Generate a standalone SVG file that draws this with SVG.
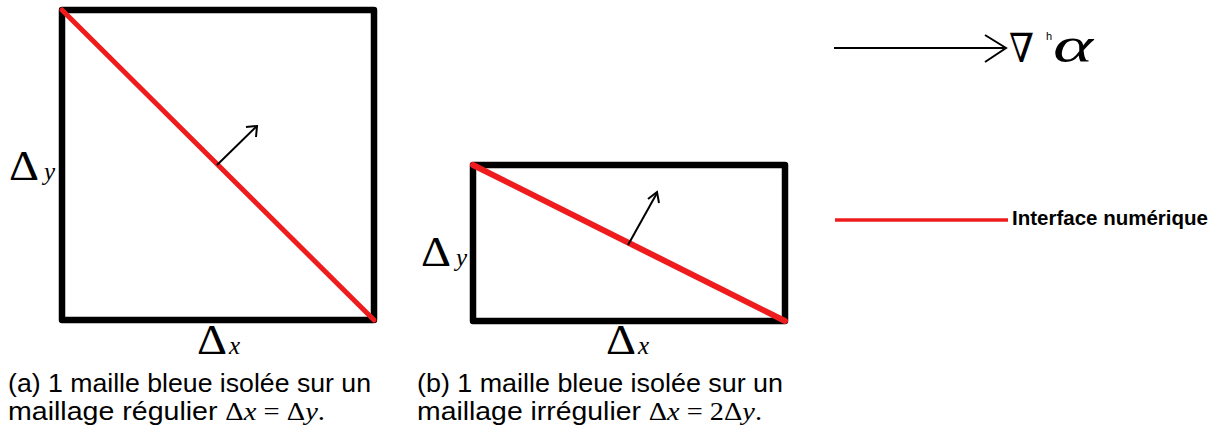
<svg xmlns="http://www.w3.org/2000/svg" width="1219" height="435" viewBox="0 0 1219 435">
<defs>
<style>
.cell{fill:none;stroke:#000;stroke-width:6.5;stroke-linejoin:round}
.iface{stroke:#ee1c1c;stroke-linecap:round}
.normal{fill:none;stroke:#000;stroke-width:2}
.math{font-family:"Liberation Serif","DejaVu Serif",serif;fill:#000}
.big{font-size:42px}
.var{font-size:25px;font-style:italic}
.cap{font-family:"Liberation Sans",Arial,sans-serif;font-size:25px;fill:#000}
</style>
</defs>
<rect width="1219" height="435" fill="#fff"/>
<g id="cell-a">
<rect class="cell" x="62" y="10" width="312" height="310"/>
<line class="iface" x1="62" y1="10" x2="374" y2="320" stroke-width="5"/>
<text class="math big" x="9" y="180" textLength="30" lengthAdjust="spacingAndGlyphs">Δ</text>
<text class="math var" x="44" y="180">y</text>
<text class="math big" x="197" y="354" textLength="30" lengthAdjust="spacingAndGlyphs">Δ</text>
<text class="math var" x="229" y="354">x</text>
</g>
<g id="cell-b">
<rect class="cell" x="473" y="165" width="312" height="156"/>
<line class="iface" x1="473" y1="165" x2="785" y2="321" stroke-width="6"/>
<text class="math big" x="421" y="266" textLength="30" lengthAdjust="spacingAndGlyphs">Δ</text>
<text class="math var" x="456" y="266">y</text>
<text class="math big" x="606" y="354" textLength="30" lengthAdjust="spacingAndGlyphs">Δ</text>
<text class="math var" x="638" y="354">x</text>
</g>
<g id="connectors">
<line class="normal" x1="217" y1="165" x2="257" y2="126"/>
<polyline class="normal" points="246,127 257,126 256,137"/>
<line class="normal" x1="628" y1="245" x2="657" y2="193"/>
<polyline class="normal" points="648,199 657,192 659,203"/>
</g>
<g id="legend-gradient">
<line x1="834" y1="48" x2="1004" y2="48" stroke="#000" stroke-width="2"/>
<polyline points="985,35 1006,48 985,62" fill="none" stroke="#000" stroke-width="2"/>
<text x="1009" y="62" font-family="DejaVu Serif,serif" font-size="40" textLength="25" lengthAdjust="spacingAndGlyphs">∇</text>
<text x="1046" y="40" font-family="Liberation Sans,Arial,sans-serif" font-size="11">h</text>
<text class="math" x="1053" y="62" font-size="50" font-style="italic" textLength="40" lengthAdjust="spacingAndGlyphs">α</text>
</g>
<g id="legend-interface">
<line x1="835" y1="220" x2="1008" y2="220" stroke="#ee1c1c" stroke-width="3.5"/>
<text x="1012" y="225" font-family="Liberation Sans,Arial,sans-serif" font-size="20.5" font-weight="bold">Interface numérique</text>
</g>
<g id="captions">
<text class="cap" x="8" y="392" textLength="363" lengthAdjust="spacingAndGlyphs">(a) 1 maille bleue isolée sur un</text>
<text class="cap" x="8" y="420" textLength="317" lengthAdjust="spacingAndGlyphs">maillage régulier <tspan class="math">Δ<tspan font-style="italic">x</tspan> = Δ<tspan font-style="italic">y</tspan>.</tspan></text>
<text class="cap" x="417" y="392" textLength="366" lengthAdjust="spacingAndGlyphs">(b) 1 maille bleue isolée sur un</text>
<text class="cap" x="417" y="420" textLength="345" lengthAdjust="spacingAndGlyphs">maillage irrégulier <tspan class="math">Δ<tspan font-style="italic">x</tspan> = 2Δ<tspan font-style="italic">y</tspan>.</tspan></text>
</g>
</svg>
